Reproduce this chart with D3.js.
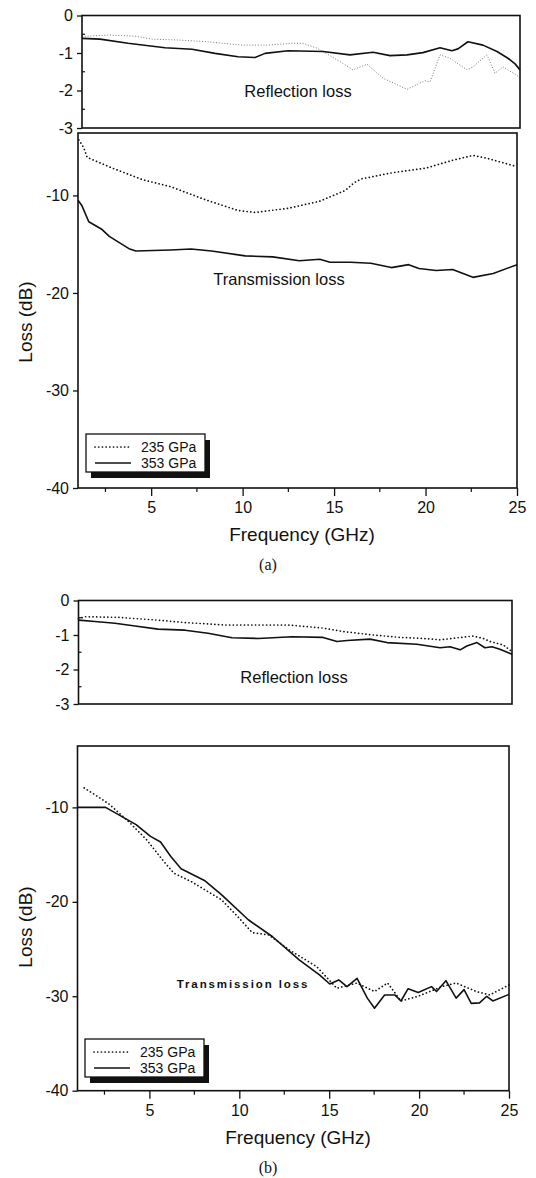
<!DOCTYPE html>
<html>
<head>
<meta charset="utf-8">
<script src="https://cdn.jsdelivr.net/npm/d3@7/dist/d3.min.js"></script>
<style>
body { margin: 0; background: #fff; }
text { font-family: "Liberation Sans", Arial, sans-serif; fill: #111; }
.tick line { stroke: #111; stroke-width: 1.3px; }
</style>
</head>
<body>
<div class="canvas"></div>
<script>
// axis ticks
var freqTicks = [5, 10, 15, 20, 25];
var freqMinor = [2.5, 7.5, 12.5, 17.5, 22.5];
var reflTicks = [0, -1, -2, -3];
var reflMinor = [-0.5, -1.5, -2.5];
var transTicks = [-10, -20, -30, -40];
var legendNames = ["235 GPa", "353 GPa"];

// (a) reflection loss [GHz, dB]
var reflA235 = [[1.0,-0.56],[2.42,-0.52],[3.9,-0.55],[4.84,-0.63],[6.1,-0.65],[7.9,-0.70],[9.77,-0.79],
	[11.19,-0.79],[12.5,-0.74],[13.11,-0.74],[13.88,-0.87],[15.14,-1.23],[15.85,-1.45],[16.62,-1.30],
	[17.49,-1.67],[18.81,-1.97],[19.79,-1.74],[20.07,-1.77],[20.62,-1.05],[21.16,-1.14],[22.1,-1.45],
	[22.42,-1.37],[23.19,-1.05],[23.63,-1.54],[24.07,-1.37],[25.0,-1.65]];
var reflA353 = [[1.0,-0.61],[1.99,-0.63],[3.52,-0.74],[5.55,-0.86],[7.03,-0.90],[8.29,-1.01],[9.55,-1.10],
	[10.48,-1.12],[11.03,-1.01],[12.29,-0.94],[14.21,-0.96],[15.68,-1.05],[16.95,-0.98],[17.88,-1.07],
	[18.81,-1.05],[19.68,-0.99],[20.62,-0.86],[21.27,-0.94],[21.6,-0.89],[22.15,-0.70],[22.97,-0.79],
	[23.74,-0.96],[24.34,-1.14],[24.73,-1.29],[25.0,-1.45]];

// (a) transmission loss
var transA235 = [[1.05,-4.3],[1.31,-5.1],[1.5,-6.1],[2.88,-7.2],[4.55,-8.4],[6.06,-9.1],[7.9,-10.4],
	[9.76,-11.55],[10.7,-11.75],[12.55,-11.3],[14.2,-10.6],[15.6,-9.5],[16.1,-8.7],[16.5,-8.3],
	[18.12,-7.7],[20.02,-7.2],[21.47,-6.4],[22.59,-5.9],[23.37,-6.2],[25.0,-7.05]];
var transA353 = [[1.0,-10.5],[1.2,-11.0],[1.59,-12.7],[2.32,-13.5],[2.71,-14.2],[3.83,-15.5],[4.16,-15.7],
	[6.06,-15.6],[7.18,-15.5],[8.3,-15.7],[10.14,-16.2],[11.65,-16.3],[13.1,-16.7],[14.22,-16.55],
	[14.78,-16.85],[15.9,-16.85],[17.01,-16.95],[18.13,-17.4],[19.08,-17.1],[19.64,-17.5],[20.58,-17.7],
	[21.48,-17.6],[22.59,-18.4],[23.7,-18.0],[25.0,-17.1]];

// (b) reflection loss
var reflB235 = [[1.0,-0.53],[1.36,-0.47],[3.19,-0.49],[5.4,-0.57],[6.9,-0.64],[9.11,-0.71],[12.6,-0.71],
	[14.54,-0.80],[15.66,-0.90],[17.31,-1.0],[18.81,-1.07],[20.08,-1.10],[21.02,-1.14],[22.85,-1.03],
	[23.41,-1.10],[23.8,-1.19],[24.52,-1.29],[25.0,-1.48]];
var reflB353 = [[1.0,-0.57],[1.91,-0.61],[3.02,-0.66],[4.13,-0.74],[5.4,-0.83],[6.9,-0.86],[8.17,-0.95],
	[9.5,-1.08],[10.94,-1.10],[12.83,-1.05],[14.54,-1.07],[15.31,-1.19],[15.87,-1.16],[17.14,-1.12],
	[18.08,-1.22],[19.74,-1.27],[21.02,-1.37],[21.57,-1.34],[22.13,-1.43],[22.5,-1.32],[23.06,-1.22],
	[23.5,-1.37],[23.89,-1.34],[24.33,-1.41],[25.0,-1.56]];

// (b) transmission loss
var transB235 = [[1.37,-7.94],[2.39,-9.18],[2.79,-9.7],[3.92,-11.65],[4.83,-13.4],[5.79,-15.7],[6.36,-16.96],
	[7.32,-17.85],[9.02,-19.8],[9.93,-21.6],[10.72,-23.26],[11.63,-23.5],[12.79,-25.1],[14.3,-26.86],
	[15.42,-29.15],[16.55,-28.6],[17.52,-29.5],[18.25,-28.6],[18.99,-30.5],[19.95,-30.0],[21.26,-28.98],
	[22.06,-28.6],[23.19,-29.5],[23.93,-29.86],[25.0,-28.8]];
var transB353 = [[1.0,-10.0],[2.56,-10.0],[3.4,-10.9],[4.26,-11.83],[5.06,-13.07],[5.62,-13.67],[6.19,-15.2],
	[6.76,-16.5],[8.06,-17.74],[9.02,-19.26],[10.5,-21.9],[11.85,-23.7],[13.33,-26.15],[14.46,-27.74],
	[15.03,-28.7],[15.53,-28.27],[15.99,-28.98],[16.55,-28.1],[17.12,-30.2],[17.52,-31.27],[18.08,-29.86],
	[18.65,-29.86],[18.99,-30.5],[19.39,-29.2],[19.95,-29.6],[20.69,-28.98],[20.97,-29.5],[21.49,-28.35],
	[22.06,-30.2],[22.5,-29.3],[22.9,-30.75],[23.36,-30.7],[23.76,-30.0],[24.1,-30.5],[25.0,-29.8]];

var width = 536, height = 1178;

var svg = d3.select(".canvas").append("svg")
	.attr("width", width)
	.attr("height", height);

// layout of the two figures
var figs = [
	{ refl: { x0: 82, x1: 520, y0: 15.5, y1: 128, data: [reflA235, reflA353], faint: true },
	  trans: { x0: 78, x1: 517, y0: 133, y1: 488, top: -3.6, data: [transA235, transA353] },
	  reflText: [298, 97], transText: [279, 285], transBold: false,
	  legend: [86, 434], ylab: [32, 322], xlab: [302, 541], cap: [268, 570, "(a)"] },
	{ refl: { x0: 78.5, x1: 512, y0: 600.5, y1: 704, data: [reflB235, reflB353], faint: false },
	  trans: { x0: 77.5, x1: 509, y0: 746, y1: 1090.7, top: -3.5, data: [transB235, transB353] },
	  reflText: [294, 683], transText: [243, 988], transBold: true,
	  legend: [85, 1039], ylab: [32, 927], xlab: [298, 1144], cap: [268, 1173, "(b)"] }
];

function styleLine(sel, i, faint) {
	sel.attr("fill", "none")
		.attr("stroke", i === 0 && faint ? "#777" : "#111")
		.attr("stroke-width", i === 0 ? (faint ? 1 : 1.7) : 1.6)
		.attr("stroke-dasharray", i === 0 ? (faint ? "1,1.8" : "0.1,3.6") : null)
		.attr("stroke-linecap", i === 0 && !faint ? "round" : "butt")
		.attr("stroke-linejoin", "round");
}

function drawPanel(p, withX) {
	var x = d3.scaleLinear().domain([1, 25]).range([p.x0, p.x1]);
	var y = withX ? d3.scaleLinear().domain([-40, p.top]).range([p.y1, p.y0])
		: d3.scaleLinear().domain([-3, 0]).range([p.y1, p.y0]);
	var g = svg.append("g");

	var line = d3.line()
		.x(function(d) { return x(d[0]); })
		.y(function(d) { return y(d[1]); });

	p.data.forEach(function(s, i) {
		g.append("path").datum(s).attr("d", line).call(styleLine, i, p.faint);
	});

	g.append("rect")
		.attr("x", p.x0).attr("y", p.y0)
		.attr("width", p.x1 - p.x0).attr("height", p.y1 - p.y0)
		.attr("fill", "none").attr("stroke", "#111").attr("stroke-width", 1.6);

	var yAxis = g.append("g")
		.attr("transform", "translate(" + p.x0 + ",0)")
		.call(d3.axisLeft(y).tickValues(withX ? transTicks : reflTicks).tickSize(5).tickPadding(4)
			.tickFormat(function(d) { return d === 0 ? "0" : "-" + Math.abs(d); }));
	yAxis.select(".domain").remove();
	yAxis.selectAll("text").style("font-size", "16px");

	if (!withX) {
		g.selectAll(".minor").data(reflMinor).enter().append("line")
			.attr("class", "minor")
			.attr("x1", p.x0).attr("x2", p.x0 + 3)
			.attr("y1", function(d) { return y(d); })
			.attr("y2", function(d) { return y(d); })
			.attr("stroke", "#111").attr("stroke-width", 1.2);
	}
	else {
		var xAxis = g.append("g")
			.attr("transform", "translate(0," + p.y1 + ")")
			.call(d3.axisBottom(x).tickValues(freqTicks).tickSize(8).tickPadding(6));
		xAxis.select(".domain").remove();
		xAxis.selectAll("text").style("font-size", "16px");
		g.selectAll(".minor").data(freqMinor).enter().append("line")
			.attr("class", "minor")
			.attr("x1", function(d) { return x(d); })
			.attr("x2", function(d) { return x(d); })
			.attr("y1", p.y1).attr("y2", p.y1 + 4)
			.attr("stroke", "#111").attr("stroke-width", 1.2);
	}
}

function drawLegend(pos) {
	var g = svg.append("g").attr("transform", "translate(" + pos[0] + "," + pos[1] + ")");
	var w = 119, h = 38;
	g.append("rect").attr("x", 5).attr("y", 6).attr("width", w).attr("height", h).attr("fill", "#111");
	g.append("rect").attr("x", 0).attr("y", 0).attr("width", w).attr("height", h)
		.attr("fill", "#fff").attr("stroke", "#111").attr("stroke-width", 1.3);
	legendNames.forEach(function(name, i) {
		g.append("line")
			.attr("x1", 9).attr("x2", 45)
			.attr("y1", 13 + i * 16).attr("y2", 13 + i * 16)
			.call(styleLine, i, false);
		g.append("text")
			.attr("x", 55).attr("y", 18 + i * 16)
			.style("font-size", "14px")
			.text(name);
	});
}

figs.forEach(function(f) {
	drawPanel(f.refl, false);
	drawPanel(f.trans, true);

	svg.append("text")
		.attr("x", f.reflText[0]).attr("y", f.reflText[1])
		.attr("text-anchor", "middle")
		.style("font-size", "16.5px")
		.text("Reflection loss");

	svg.append("text")
		.attr("x", f.transText[0]).attr("y", f.transText[1])
		.attr("text-anchor", "middle")
		.style("font-size", f.transBold ? "11.5px" : "16.5px")
		.style("font-weight", f.transBold ? "bold" : "normal")
		.style("letter-spacing", f.transBold ? "1.9px" : null)
		.text("Transmission loss");

	drawLegend(f.legend);

	svg.append("text")
		.attr("transform", "translate(" + f.ylab[0] + "," + f.ylab[1] + ") rotate(-90)")
		.attr("text-anchor", "middle")
		.style("font-size", "19px")
		.text("Loss (dB)");

	svg.append("text")
		.attr("x", f.xlab[0]).attr("y", f.xlab[1])
		.attr("text-anchor", "middle")
		.style("font-size", "19px")
		.text("Frequency (GHz)");

	svg.append("text")
		.attr("x", f.cap[0]).attr("y", f.cap[1])
		.attr("text-anchor", "middle")
		.style("font-family", "'Liberation Serif', 'Times New Roman', serif")
		.style("font-size", "16px")
		.text(f.cap[2]);
});
</script>
</body>
</html>
